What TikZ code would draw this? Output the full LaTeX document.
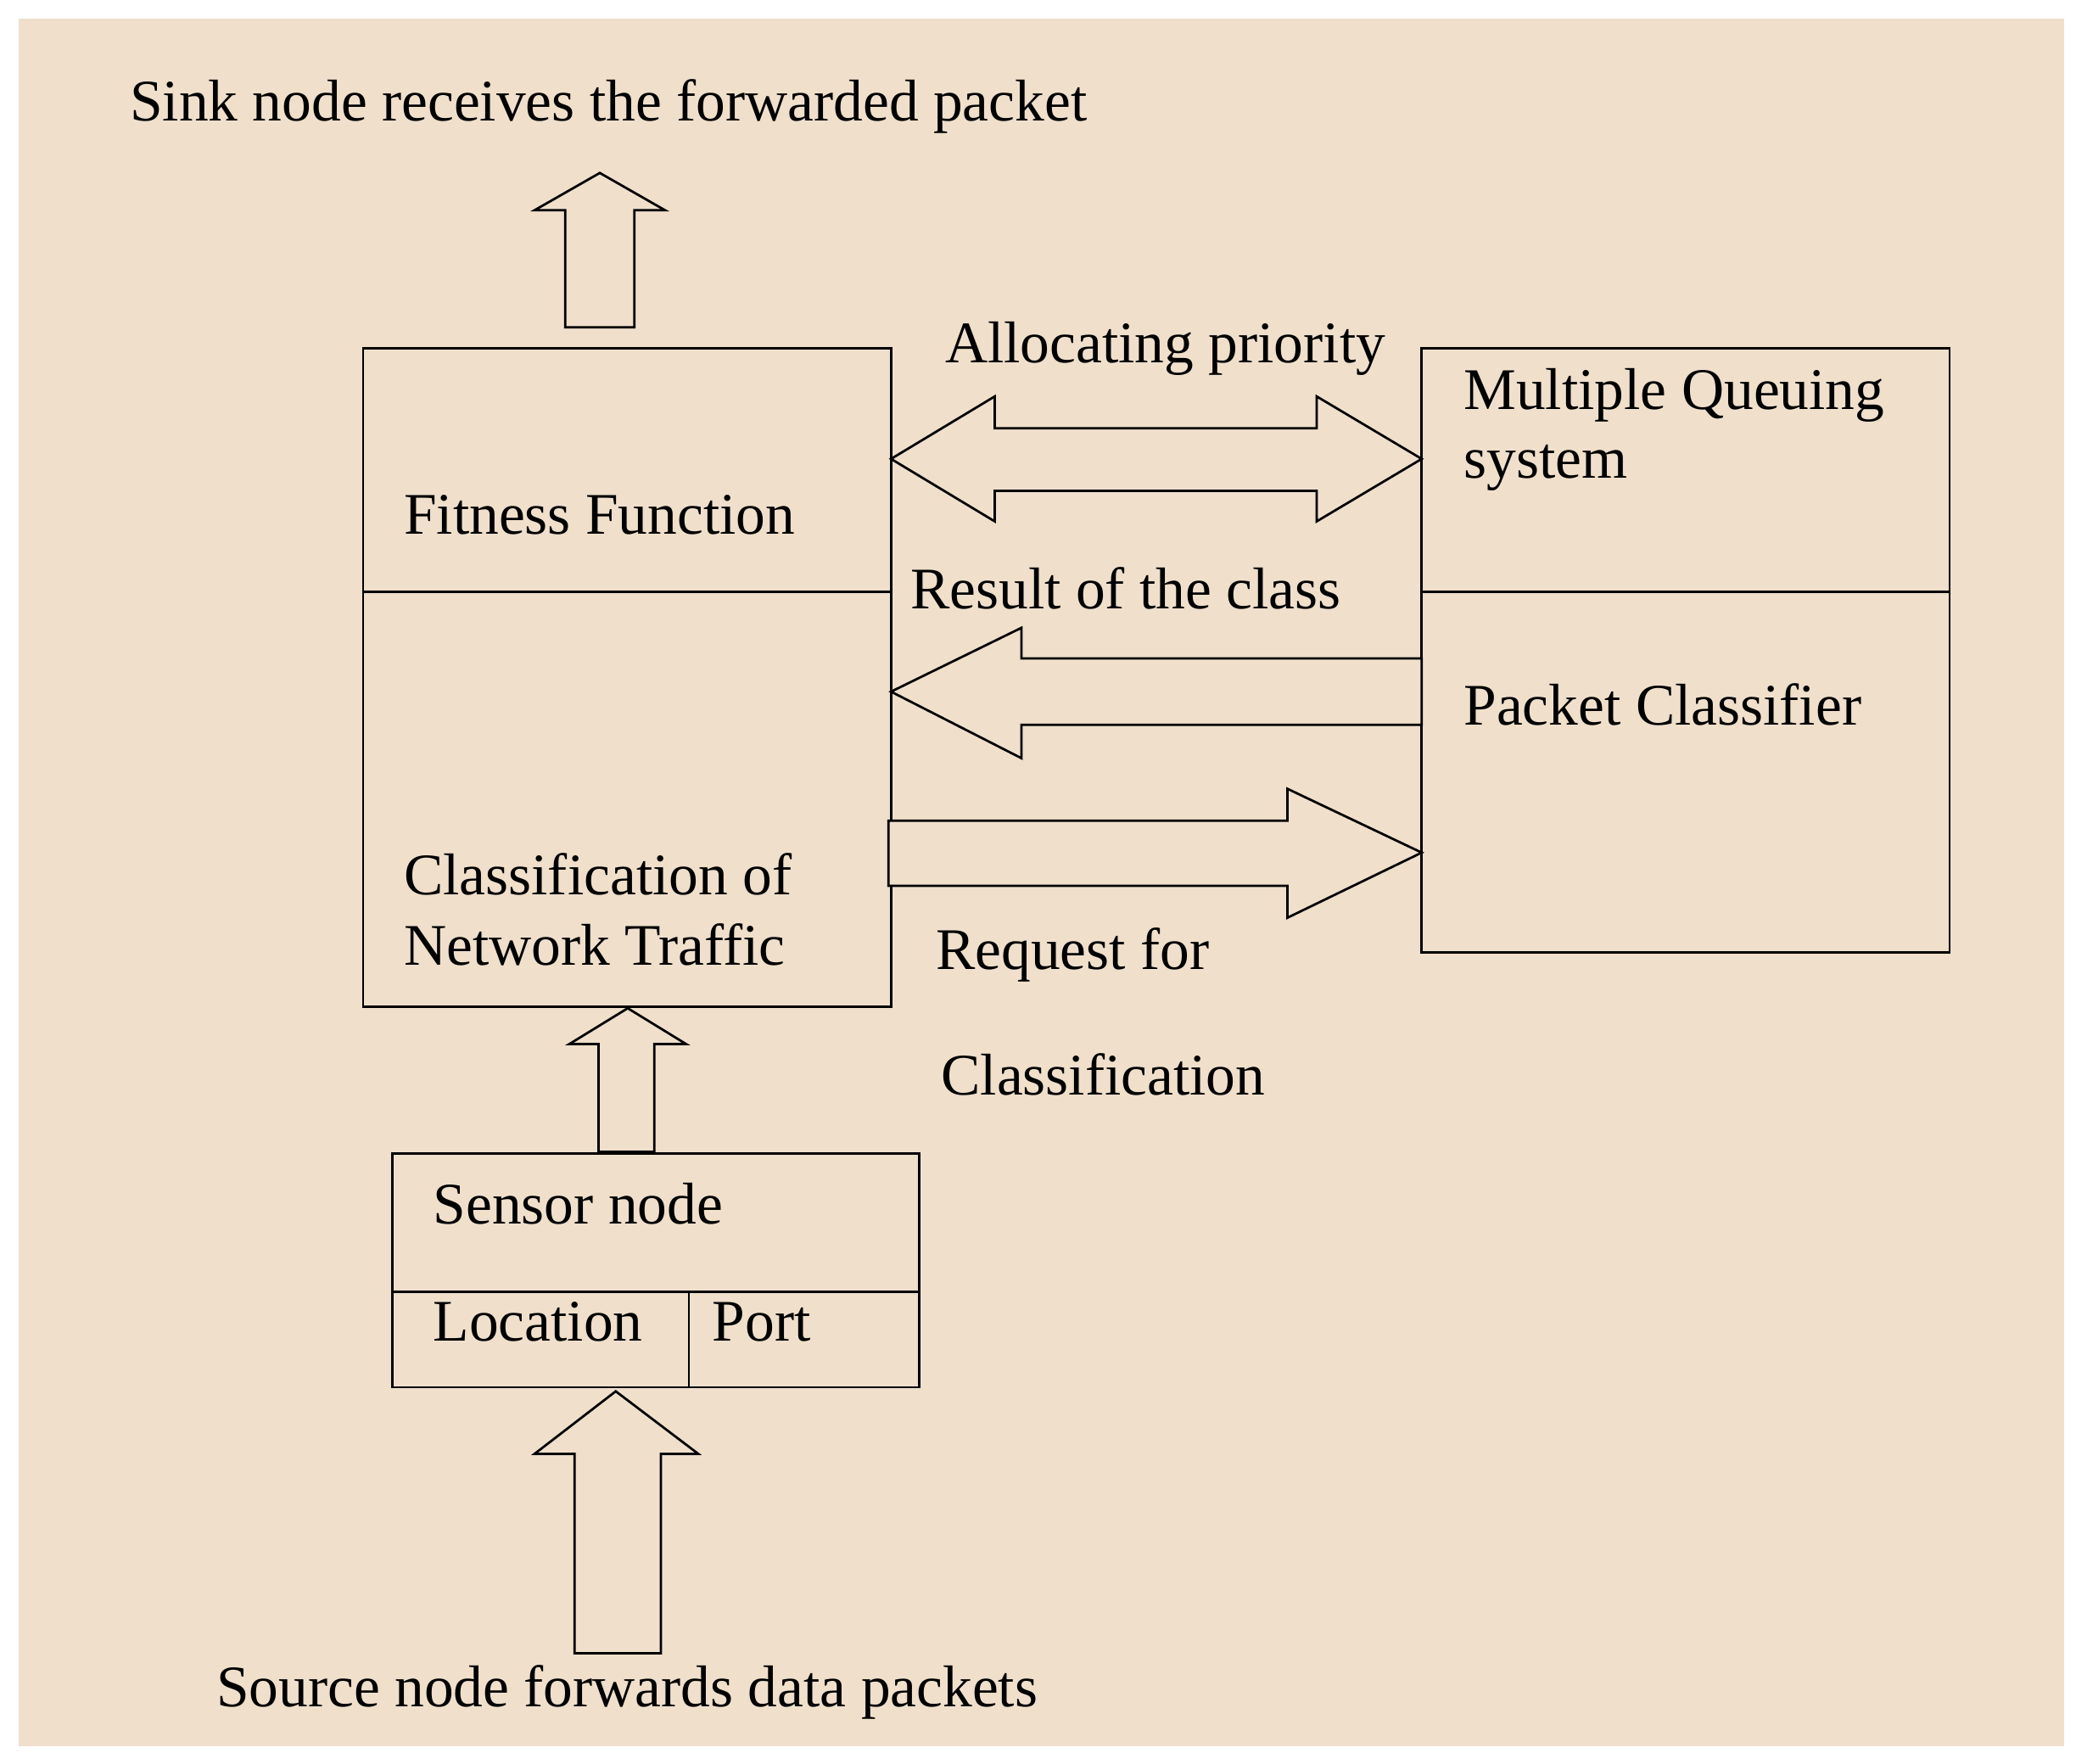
\documentclass[tikz,border=0pt]{standalone}
\usepackage{fontspec}
\setmainfont{Liberation Serif}
\begin{document}
\begin{tikzpicture}[x=0.01cm,y=-0.01cm,
  box/.style={draw=black,line width=0.5pt},
  arr/.style={draw=black,line width=0.5pt,fill=bg},
  lbl/.style={anchor=west,inner sep=0pt,font=\fontsize{12.6}{14}\selectfont}]
\definecolor{bg}{HTML}{EFDFCB}
\useasboundingbox (0,0) rectangle (1561,1326);
\fill[white] (0,0) rectangle (1561,1326);
\fill[bg] (14,14) rectangle (1552,1313);
% boxes
\draw[box] (273,262) rectangle (670,757);
\draw[box] (273,445) -- (670,445);
\draw[box] (1069,262) rectangle (1466,716);
\draw[box] (1069,445) -- (1466,445);
\draw[box] (295,867) rectangle (691,1043);
\draw[box] (295,971) -- (691,971);
\draw[box] (518,971) -- (518,1043);
% arrows
\draw[arr] (425,246) -- (425,158) -- (402,158) -- (451,130) -- (500,158) -- (477,158) -- (477,246) -- cycle;
\draw[arr] (450,866) -- (450,785) -- (428,785) -- (472,758) -- (516,785) -- (492,785) -- (492,866) -- cycle;
\draw[arr] (432,1243) -- (432,1093) -- (402,1093) -- (463,1046) -- (525,1093) -- (497,1093) -- (497,1243) -- cycle;
\draw[arr] (670,345) -- (748,298) -- (748,322) -- (990,322) -- (990,298) -- (1069,345) -- (990,392) -- (990,369) -- (748,369) -- (748,392) -- cycle;
\draw[arr] (670,520) -- (768,472) -- (768,495) -- (1069,495) -- (1069,545) -- (768,545) -- (768,570) -- cycle;
\draw[arr] (668,617) -- (968,617) -- (968,593) -- (1069,641) -- (968,690) -- (968,666) -- (668,666) -- cycle;
% labels
\node[lbl] (t1) at (97,80) {Sink node receives the forwarded packet};
\node[lbl] (t2) at (710,262) {Allocating priority};
\node[lbl] (t3) at (1100,297) {Multiple Queuing};
\node[lbl] (t4) at (1100,352) {system};
\node[lbl] (t5) at (303,387) {Fitness Function};
\node[lbl] (t6) at (684,442) {Result of the class};
\node[lbl] (t7) at (1100,530) {Packet Classifier};
\node[lbl] (t8) at (303,657) {Classification of};
\node[lbl] (t9) at (303,710) {Network Traffic};
\node[lbl] (t10) at (703,718) {Request for};
\node[lbl] (t11) at (707,808) {Classification};
\node[lbl] (t12) at (325,905) {Sensor node};
\node[lbl] (t13) at (325,994) {Location};
\node[lbl] (t14) at (535,994) {Port};
\node[lbl] (t15) at (162,1272) {Source node forwards data packets};
\end{tikzpicture}
\end{document}
